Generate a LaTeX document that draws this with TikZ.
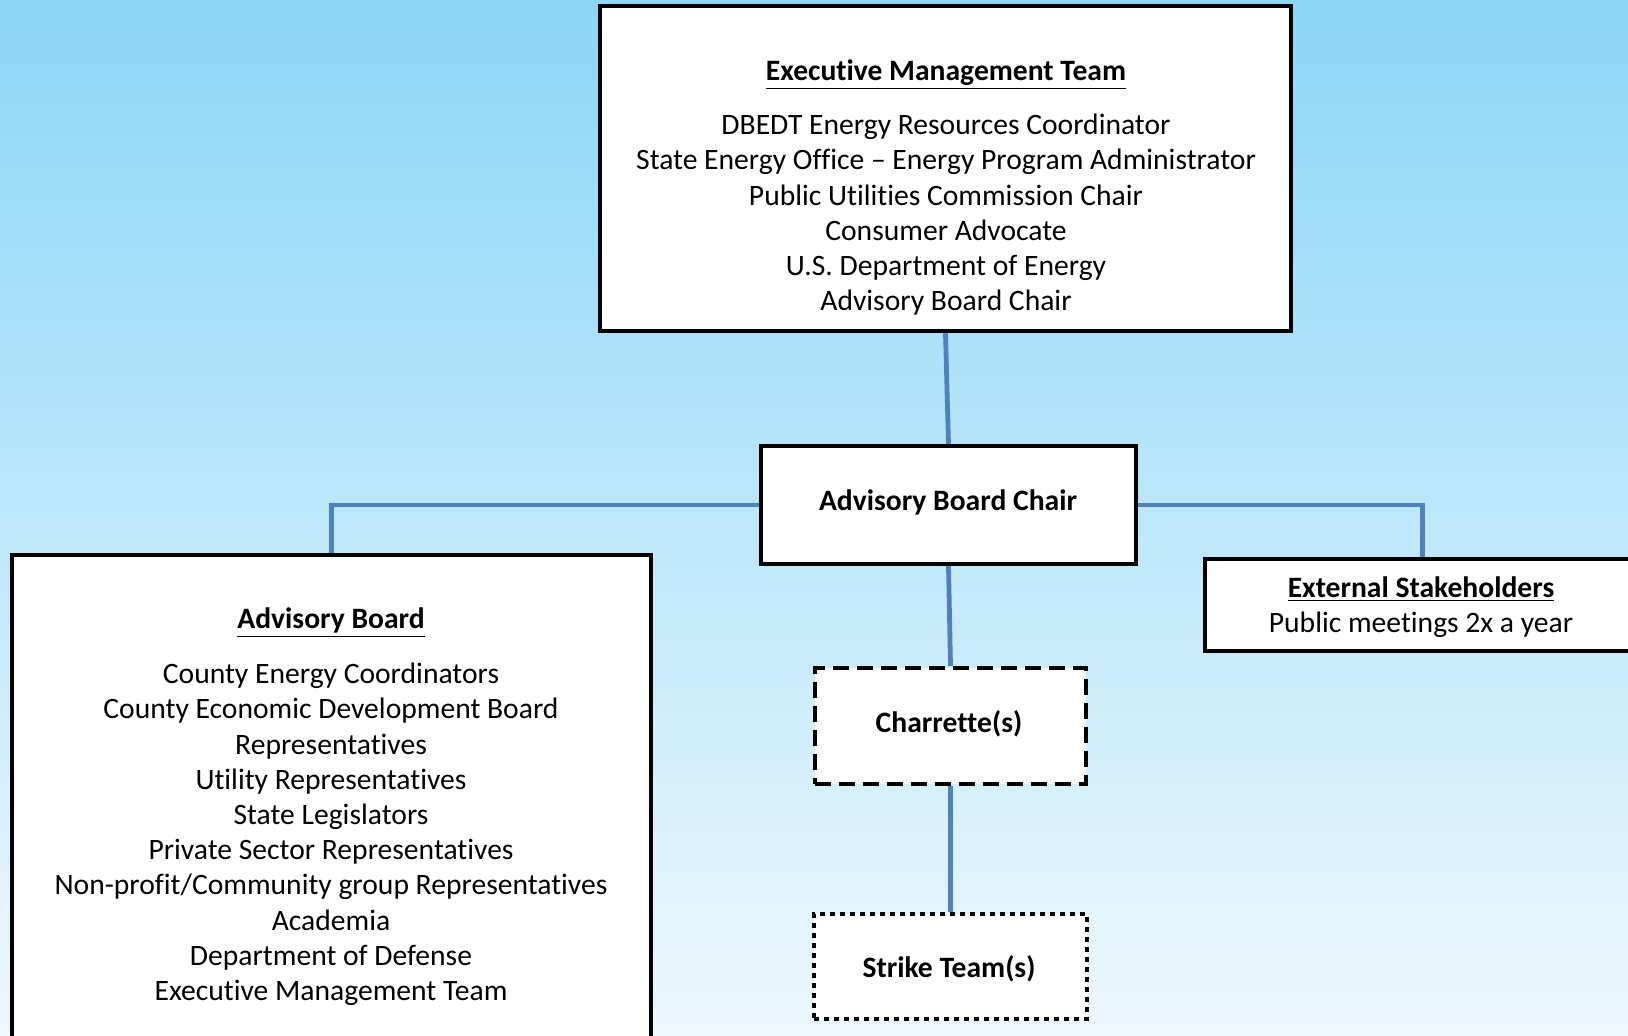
\documentclass[tikz,border=0pt]{standalone}
\usepackage{fontspec}
\setmainfont{Carlito}[Ligatures=NoCommon]
\definecolor{bgtop}{RGB}{140,214,246}
\definecolor{bgbot}{RGB}{238,248,254}
\definecolor{linkblue}{RGB}{79,129,189}
\begin{document}
\begin{tikzpicture}[x=0.5pt,y=-0.5pt,
  box/.style={draw=black,line width=2pt,fill=white,rectangle,inner sep=0pt},
  txt/.style={font=\fontsize{14.8}{17.5}\selectfont,anchor=mid,inner sep=0pt},
  ttl/.style={font=\fontsize{14.8}{17.5}\selectfont\bfseries,anchor=mid,inner sep=0pt},
  link/.style={draw=linkblue,line width=2.4pt}]
\shade[top color=bgtop,bottom color=bgbot] (0,0) rectangle (1628,1035);
\useasboundingbox (0,0) rectangle (1628,1035);
% boxes
\node[box,minimum width=345.5pt,minimum height=162.5pt] (emt) at (945.5,168.5) {};
\node[box,minimum width=187.5pt,minimum height=59pt] (abc) at (948.5,505) {};
\node[box,minimum width=319.5pt,minimum height=245pt] (ab) at (331.5,800) {};
\node[box,minimum width=217.5pt,minimum height=46pt] (es) at (1422.5,605) {};
\node[box,dash pattern=on 8pt off 4pt,minimum width=135.5pt,minimum height=58pt] (ch) at (950.5,726) {};
\node[box,dash pattern=on 2.5pt off 2.5pt,minimum width=136.5pt,minimum height=52.5pt] (st) at (950.5,966.5) {};
% connectors
\draw[link] (emt.south) -- (abc.north);
\draw[link] (abc.west) -| (ab.north);
\draw[link] (abc.east) -| (es.north);
\draw[link] (abc.south) -- (ch.north);
\draw[link] (ch.south) -- (st.north);
% texts
\node[ttl] (emtt) at (946,76) {\underline{Executive Management Team}};
\foreach \t [count=\i from 0] in {DBEDT Energy Resources Coordinator,State Energy Office – Energy Program Administrator,Public Utilities Commission Chair,Consumer Advocate,U.S. Department of Energy,Advisory Board Chair}
  \node[txt] (emtl\i) at (946,130+35.2*\i) {\t};
\node[ttl] (abct) at (948,506) {Advisory Board Chair};
\node[ttl] (abt) at (331,624) {\underline{Advisory Board}};
\foreach \t [count=\i from 0] in {County Energy Coordinators,County Economic Development Board,Representatives,Utility Representatives,State Legislators,Private Sector Representatives,Non-profit/Community group Representatives,Academia,Department of Defense,Executive Management Team}
  \node[txt] (abl\i) at (331,679+35.2*\i) {\t};
\node[ttl] (est) at (1421,593) {\underline{External Stakeholders}};
\node[txt] (esl) at (1421,628) {Public meetings 2x a year};
\node[ttl] (cht) at (949,728) {Charrette(s)};
\node[ttl] (stt) at (949,973) {Strike Team(s)};
\end{tikzpicture}
\end{document}
